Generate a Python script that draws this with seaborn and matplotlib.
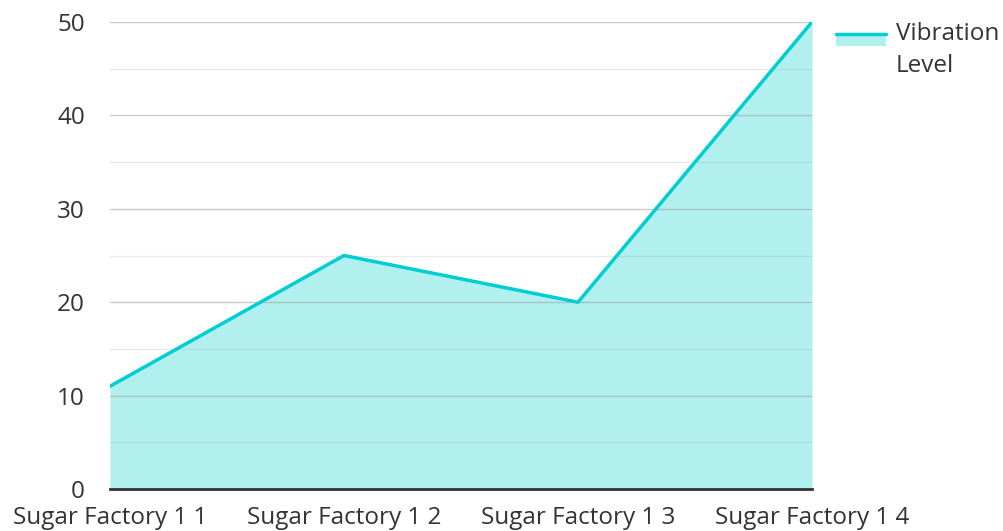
import pandas as pd
import seaborn as sns
import matplotlib.pyplot as plt
from matplotlib.patches import Rectangle
from matplotlib.lines import Line2D
from matplotlib.legend_handler import HandlerBase

# data
categories = ["Sugar Factory 1 1", "Sugar Factory 1 2", "Sugar Factory 1 3", "Sugar Factory 1 4"]
vibration = [11, 25, 20, 50]
series_name = "Vibration\nLevel"

df = pd.DataFrame({"x": range(len(categories)), "category": categories, "value": vibration})

sns.set_style("white")
plt.rcParams['font.family'] = ['Open Sans', 'DejaVu Sans']

line_color = "#00CED1"
fill_color = "#B2EFEF"
text_color = "#333333"
fs = 17.5


class LineAreaHandler(HandlerBase):
    # line on top of a small filled band, lifted to the first text line
    def create_artists(self, legend, orig_handle, xdescent, ydescent, width, height, fontsize, trans):
        y = (height - ydescent) / 2 + 12.2
        band = Rectangle((-xdescent, y - 8.6), width, 8.6, facecolor=fill_color,
                         edgecolor="none", transform=trans)
        line = Line2D([-xdescent, -xdescent + width], [y, y], color=line_color, lw=2.5,
                      transform=trans)
        return [band, line]


fig = plt.figure(figsize=(10.04, 5.31), dpi=100)
ax = fig.add_axes([110 / 1004, 1 - 489 / 531, (812 - 110) / 1004, (489 - 22) / 531])

ax.fill_between(df["x"], df["value"], 0, color=fill_color, lw=0, zorder=1)
sns.lineplot(data=df, x="x", y="value", color=line_color, lw=2.5, ax=ax, zorder=3)

# gridlines above the fill
for y in range(5, 50, 10):
    ax.axhline(y, color="#999999", alpha=0.2, lw=1, zorder=2)
for y in range(10, 51, 10):
    ax.axhline(y, color="#999999", alpha=0.5, lw=1, zorder=2)

ax.set_xlim(0, len(categories) - 1)
ax.set_ylim(0, 50)
ax.set_xticks(df["x"])
ax.set_xticklabels(categories)
ax.set_yticks(range(0, 51, 10))
ax.tick_params(axis="both", length=0, labelsize=fs, colors=text_color)
ax.tick_params(axis="y", pad=18)
ax.tick_params(axis="x", pad=12.5)
ax.set_xlabel("")
ax.set_ylabel("")

for side in ["top", "right", "left"]:
    ax.spines[side].set_visible(False)
ax.spines["bottom"].set_color("#333333")
ax.spines["bottom"].set_linewidth(2)
ax.spines["bottom"].set_zorder(4)

leg = fig.legend([object()], [series_name], loc="upper left",
                 bbox_to_anchor=(836 / 1004, 1 - 22 / 531),
                 handler_map={object: LineAreaHandler()},
                 frameon=False, fontsize=fs, handlelength=2.06, handletextpad=0.41,
                 borderaxespad=0, borderpad=0)
for t in leg.get_texts():
    t.set_color(text_color)
    t.set_linespacing(1.45)

fig.savefig("out.png", dpi=100)
